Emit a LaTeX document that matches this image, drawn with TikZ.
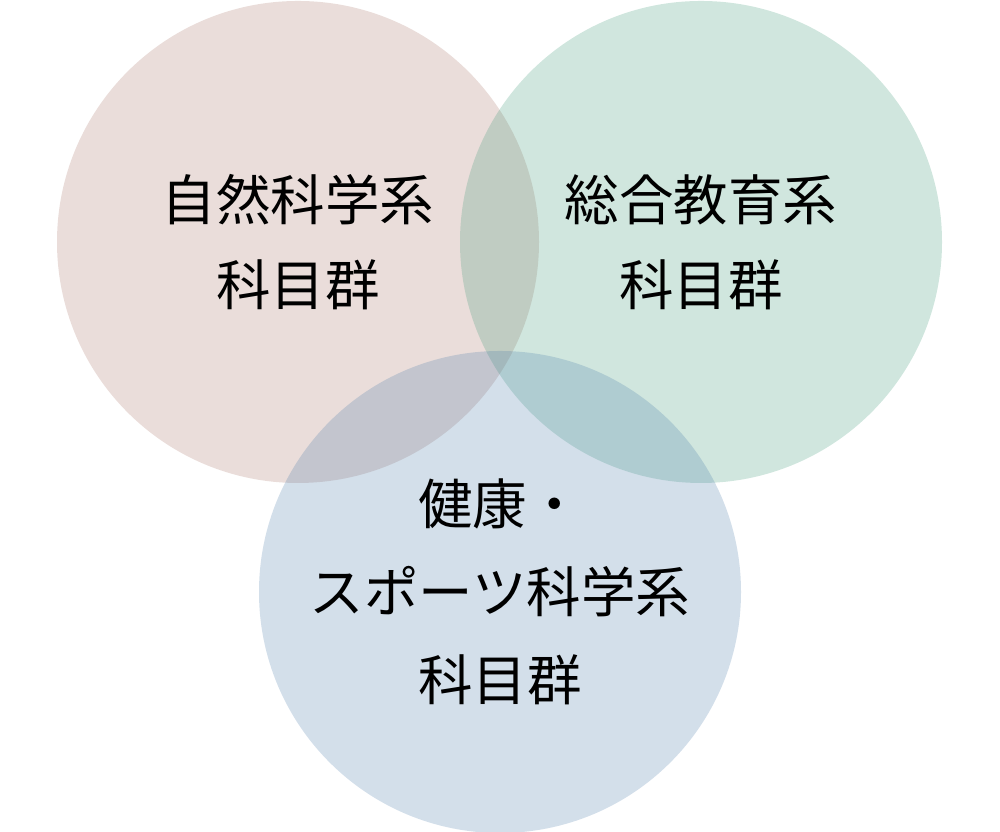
\documentclass[tikz,border=0pt]{standalone}
\usepackage{fontspec}
\setmainfont{Noto Sans CJK JP}
\definecolor{natred}{RGB}{171,119,107}
\definecolor{edugreen}{RGB}{67,155,123}
\definecolor{sportblue}{RGB}{79,127,171}
\begin{document}
\begin{tikzpicture}[venn/.style={circle,minimum size=9.64cm,inner sep=0pt,fill opacity=0.25,text opacity=1,align=center,font=\fontsize{31}{48.5}\selectfont}]
         \useasboundingbox (0,0) rectangle (20,16.64);
         \node[venn,fill=natred] (nat) at (5.96,11.8) {自然科学系\\科目群};
         \node[venn,fill=edugreen] (edu) at (14.02,11.8) {総合教育系\\科目群};
         \node[venn,fill=sportblue,font=\fontsize{31}{50}\selectfont] (sport) at (10,4.8) {健康・\\スポーツ科学系\\科目群};
      \end{tikzpicture}
\end{document}
